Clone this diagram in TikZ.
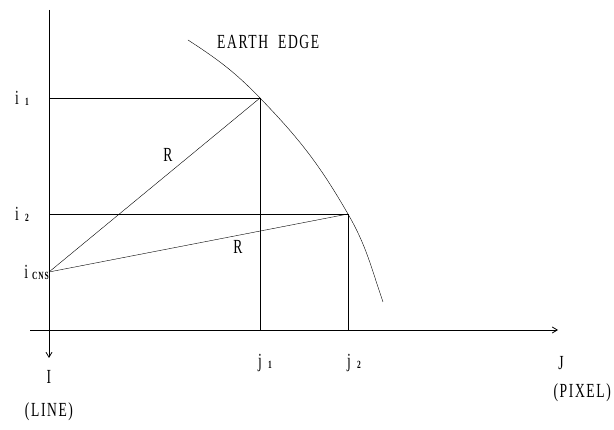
\documentclass[tikz,border=0pt]{standalone}
\usepackage{fontspec}
\setmainfont[FakeStretch=0.68,LetterSpace=8]{Liberation Serif}
\usetikzlibrary{arrows.meta,positioning}

\newcommand{\subidx}[1]{\raisebox{-1pt}{\fontsize{11}{12}\selectfont\bfseries #1}}

\begin{document}
\begin{tikzpicture}[
  x=1pt, y=-1pt,
  every node/.style={font=\fontsize{20}{22}\selectfont, inner sep=1pt},
  axis/.style={thick, -{Straight Barb[length=5pt,width=6pt]}},
  guide/.style={thin},
  radius line/.style={thin}
]
\useasboundingbox (0,0) rectangle (614,430);

% axes
\coordinate (origin) at (49,330);
\coordinate (ytop) at (49,10);
\coordinate (yend) at (49,358);
\coordinate (xstart) at (30,330);
\coordinate (xend) at (558,330);
\draw[axis] (ytop) -- (yend);
\draw[axis] (xstart) -- (xend);

% points on the earth edge
\coordinate (icns) at (49,272);
\coordinate (i1) at (49,98);
\coordinate (i2) at (49,214);
\coordinate (p1) at (260,98);
\coordinate (p2) at (348,214);
\coordinate (j1) at (260,330);
\coordinate (j2) at (348,330);
\coordinate (edgetop) at (188,40);
\coordinate (edgebot) at (383,302);

% earth edge
\draw[thin] (edgetop) to[out=-33,in=134] (p1) to[out=-46,in=120] (p2) to[out=-60,in=109] (edgebot);

% guide lines
\draw[guide] (i1) -- (p1) -- (j1);
\draw[guide] (i2) -- (p2) -- (j2);

% radius lines
\draw[radius line] (icns) -- (p1);
\draw[radius line] (icns) -- (p2);

% labels
\node (lbli1) at (22,98) {i\hspace{6pt}\subidx{1}};
\node (lbli2) at (22,214) {i\hspace{6pt}\subidx{2}};
\node[anchor=east] (lblcns) at (50,272) {i\hspace{4pt}\subidx{CNS}};
\node (lblr1) at (168,155) {R};
\node (lblr2) at (238,247) {R};
\node[anchor=west] (lbledge) at (216,42) {EARTH~~EDGE};
\node (lblj1) at (265,363) {j\hspace{6pt}\subidx{1}};
\node (lblj2) at (354,363) {j\hspace{6pt}\subidx{2}};
\node (lblJ) at (561,363) {J};
\node[anchor=east] (lblpixel) at (612,393) {(PIXEL)};
\node (lblI) at (49,377) {I};
\node (lblline) at (49,412) {(LINE)};
\end{tikzpicture}
\end{document}
